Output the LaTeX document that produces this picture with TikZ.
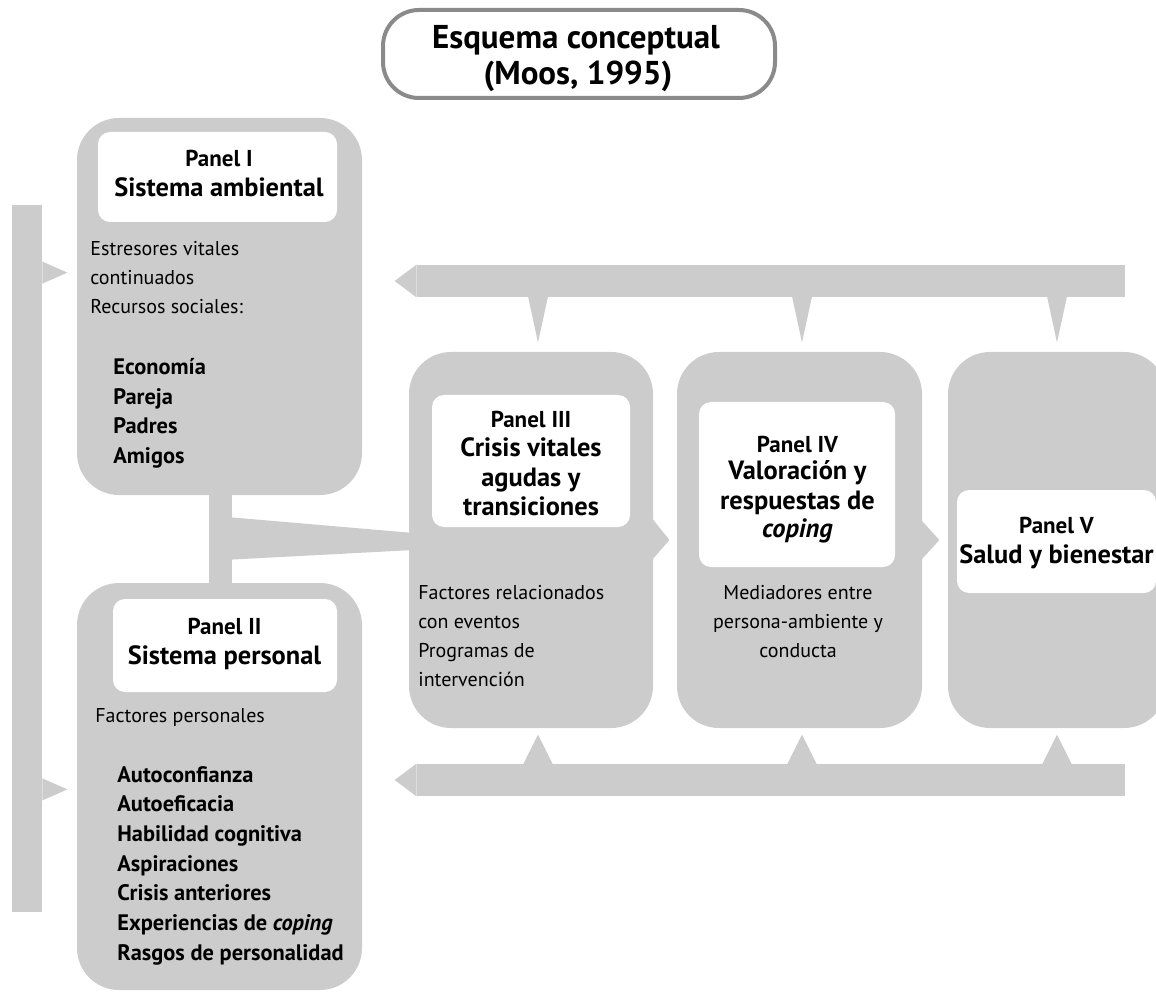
\documentclass[tikz,border=0pt]{standalone}
\usepackage{fontspec}
\setmainfont{PT Sans}
\usetikzlibrary{fit,calc}
\definecolor{panelgray}{HTML}{CCCCCC}
\definecolor{framegray}{HTML}{8A8A8A}
\tikzset{
	panel/.style={fill=panelgray,rounded corners=21pt,inner sep=0pt},
	bar/.style={fill=panelgray,inner sep=0pt},
	headbox/.style={fill=white,rounded corners=6pt,inner sep=0pt},
	titlebox/.style={draw=framegray,line width=2pt,fill=white,rounded corners=18pt,inner sep=0pt},
	titletext/.style={inner sep=0pt,anchor=base,font=\fontsize{16.5}{18}\selectfont\bfseries},
	panelname/.style={inner sep=0pt,anchor=base,font=\fontsize{11.5}{14}\selectfont\bfseries},
	headtext/.style={inner sep=0pt,anchor=base,font=\fontsize{13.2}{15}\selectfont\bfseries},
	body/.style={inner sep=0pt,font=\fontsize{10}{12}\selectfont},
	item/.style={inner sep=0pt,anchor=base west,font=\fontsize{11.2}{13}\selectfont\bfseries},
}
\begin{document}
\begin{tikzpicture}[x=0.5pt,y=-0.5pt]
	\useasboundingbox (0,0) rectangle (1156,994);
	\clip (0,0) rectangle (1156,994);
	\node[titlebox,fit={(383,10)(775,98)}] (title) {};
	\node[titletext] at (576,49) (t1) {Esquema conceptual};
	\node[titletext] at (578,85) (t2) {(Moos, 1995)};
	\node[bar,fit={(12,205)(42,912)}] (left) {};
	\node[bar,fit={(417,265)(1125,297)}] (top) {};
	\node[bar,fit={(417,764)(1125,796)}] (bottom) {};
	\node[panel,fit={(77,118)(362,495)}] (p1) {};
	\node[panel,fit={(77,583)(362,990)}] (p2) {};
	\node[panel,fit={(409,352)(653,728)}] (p3) {};
	\node[panel,fit={(677,352)(922,728)}] (p4) {};
	\node[panel,fit={(948,352)(1166,728)}] (p5) {};
	\coordinate (c3) at ($(p3.north)+(7,0)$);
	\coordinate (c4) at ($(p4.north)+(2.5,0)$);
	\coordinate (c5) at (p5.north);
	\fill[bar] ($(left.north east)+(0,57)$) -- ($(left.north east)+(25,68)$) -- ($(left.north east)+(0,79)$) -- cycle;
	\fill[bar] ($(left.south east)+(0,-134)$) -- ($(left.south east)+(25,-123)$) -- ($(left.south east)+(0,-112)$) -- cycle;
	\fill[bar] (top.north west) -- ($(top.west)+(-22,0)$) -- (top.south west) -- cycle;
	\fill[bar] (bottom.north west) -- ($(bottom.west)+(-22,0)$) -- (bottom.south west) -- cycle;
	\fill[bar] ($(top.south -| c3)+(-10,-1)$) -- ($(c3)+(0,-9)$) -- ($(top.south -| c3)+(10,-1)$) -- cycle;
	\fill[bar] ($(top.south -| c4)+(-10,-1)$) -- ($(c4)+(0,-9)$) -- ($(top.south -| c4)+(10,-1)$) -- cycle;
	\fill[bar] ($(top.south -| c5)+(-10,-1)$) -- ($(c5)+(0,-9)$) -- ($(top.south -| c5)+(10,-1)$) -- cycle;
	\fill[bar] ($(bottom.north -| c3)+(-15,1)$) -- ($(bottom.north -| c3)+(0,-29)$) -- ($(bottom.north -| c3)+(15,1)$) -- cycle;
	\fill[bar] ($(bottom.north -| c4)+(-15,1)$) -- ($(bottom.north -| c4)+(0,-29)$) -- ($(bottom.north -| c4)+(15,1)$) -- cycle;
	\fill[bar] ($(bottom.north -| c5)+(-15,1)$) -- ($(bottom.north -| c5)+(0,-29)$) -- ($(bottom.north -| c5)+(15,1)$) -- cycle;
	\fill[bar] ($(p1.south)+(-11,-5)$) rectangle ($(p2.north)+(12.5,5)$);
	\fill[bar] ($(p1.south)+(12,22)$) -- ($(p3.west)+(5,-7)$) -- ($(p3.west)+(5,10)$) -- ($(p2.north)+(12,-23)$) -- cycle;
	\fill[bar] ($(p3.east)+(-4,-25)$) -- ($(p3.east)+(16,0)$) -- ($(p3.east)+(-4,23)$) -- cycle;
	\fill[bar] ($(p4.east)+(-4,-23)$) -- ($(p4.east)+(17,0)$) -- ($(p4.east)+(-4,23)$) -- cycle;
	\node[headbox,fit={(98,132)(337,222)}] (h1) {};
	\node[headbox,fit={(113,599)(337,692)}] (h2) {};
	\node[headbox,fit={(432,395)(630,527)}] (h3) {};
	\node[headbox,fit={(699,402)(895,567)}] (h4) {};
	\node[headbox,fit={(957,490)(1156,593)}] (h5) {};
	\node[panelname] at (219,167) (h1a) {Panel I};
	\node[headtext] at (219,197) (h1b) {Sistema ambiental};
	\node[panelname] at (224.5,634) (h2a) {Panel II};
	\node[headtext] at (224.5,664) (h2b) {Sistema personal};
	\node[panelname] at (531,428) (h3a) {Panel III};
	\node[headtext] at (531,457) (h3b) {Crisis vitales};
	\node[headtext] at (531,486) (h3c) {agudas y};
	\node[headtext] at (531,515) (h3d) {transiciones};
	\node[panelname] at (797.5,452) (h4a) {Panel IV};
	\node[headtext] at (797.5,480) (h4b) {Valoración y};
	\node[headtext] at (797.5,509) (h4c) {respuestas de};
	\node[headtext] at (797.5,537) (h4d) {\textit{coping}};
	\node[panelname] at (1056.5,533) (h5a) {Panel V};
	\node[headtext] at (1056.5,563) (h5b) {Salud y bienestar};
	\node[body,anchor=base west] at (90,256) (e1) {Estresores vitales};
	\node[body,anchor=base west] at (90,285) (e2) {continuados};
	\node[body,anchor=base west] at (90,314) (e3) {Recursos sociales:};
	\node[item] at (113,375) (r1) {Economía};
	\node[item] at (113,404.5) (r2) {Pareja};
	\node[item] at (113,434) (r3) {Padres};
	\node[item] at (113,464) (r4) {Amigos};
	\node[body,anchor=base west] at (95,722) (f0) {Factores personales};
	\node[item] at (117,782) (f1) {Autoconfianza};
	\node[item] at (117,811.7) (f2) {Autoeficacia};
	\node[item] at (117,841.4) (f3) {Habilidad cognitiva};
	\node[item] at (117,871) (f4) {Aspiraciones};
	\node[item] at (117,900.8) (f5) {Crisis anteriores};
	\node[item] at (117,930.5) (f6) {Experiencias de \textit{coping}};
	\node[item] at (117,960.2) (f7) {Rasgos de personalidad};
	\node[body,anchor=base west] at (418,599) (x1) {Factores relacionados};
	\node[body,anchor=base west] at (418,628) (x2) {con eventos};
	\node[body,anchor=base west] at (418,657) (x3) {Programas de};
	\node[body,anchor=base west] at (418,686) (x4) {intervención};
	\node[body,anchor=base] at (798,599) (m1) {Mediadores entre};
	\node[body,anchor=base] at (798,628) (m2) {persona-ambiente y};
	\node[body,anchor=base] at (798,657) (m3) {conducta};
\end{tikzpicture}
\end{document}
